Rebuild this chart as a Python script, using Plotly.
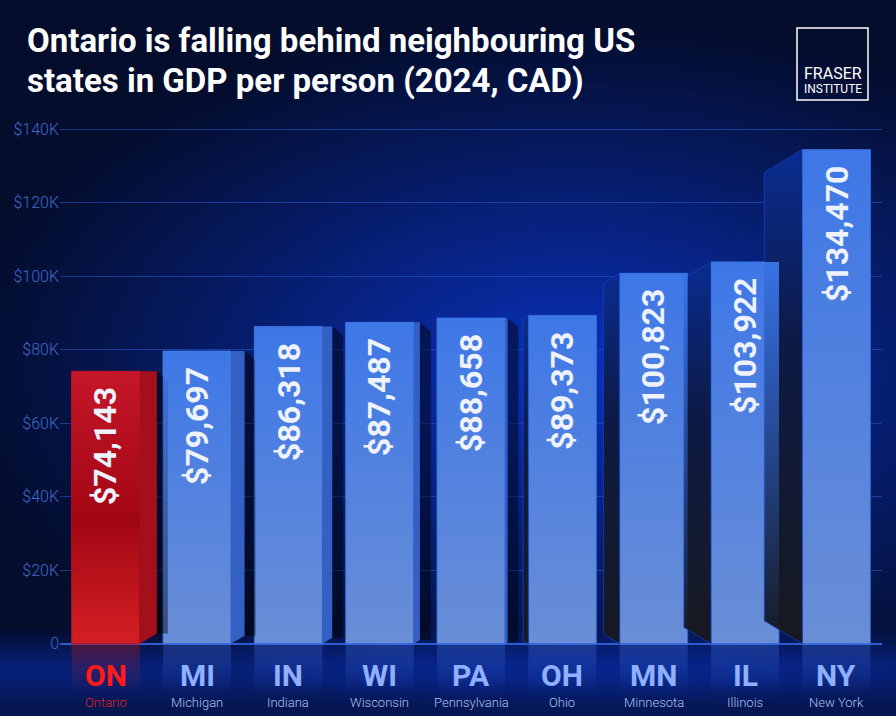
import base64
import struct
import zlib

import numpy as np
import plotly.graph_objects as go

# ---------------- data ----------------
codes = ["ON", "MI", "IN", "WI", "PA", "OH", "MN", "IL", "NY"]
names = ["Ontario", "Michigan", "Indiana", "Wisconsin", "Pennsylvania",
         "Ohio", "Minnesota", "Illinois", "New York"]
gdp_per_person = [74143, 79697, 86318, 87487, 88658, 89373, 100823, 103922, 134470]
y_tick_values = [0, 20000, 40000, 60000, 80000, 100000, 120000, 140000]
y_tick_labels = ["0", "$20K", "$40K", "$60K", "$80K", "$100K", "$120K", "$140K"]

title_line1 = "Ontario is falling behind neighbouring US"
title_line2 = "states in GDP per person (2024, CAD)"

# ---------------- layout geometry ----------------
W, H = 896, 716
L, R, T, B = 60, 14, 122, 0
PW, PH = W - L - R, H - T - B
Y_MIN, Y_MAX = -19650, 142000

FONT = "Roboto"
RED_HL = "#ff1a1a"
BLUE_HL = "#8fb0ff"


def xpaper(px):
    """figure pixel x -> paper coordinate"""
    return (px - L) / PW


def ypaper(py):
    """figure pixel y -> paper coordinate"""
    return (H - B - py) / PH


# ---------------- background image (gradient) ----------------
def make_png(arr):
    h, w, _ = arr.shape
    raw = b"".join(b"\x00" + arr[r].tobytes() for r in range(h))

    def chunk(tag, data):
        c = struct.pack(">I", len(data)) + tag + data
        return c + struct.pack(">I", zlib.crc32(tag + data) & 0xFFFFFFFF)

    ihdr = struct.pack(">IIBBBBB", w, h, 8, 2, 0, 0, 0)
    return (b"\x89PNG\r\n\x1a\n" + chunk(b"IHDR", ihdr)
            + chunk(b"IDAT", zlib.compress(raw, 9)) + chunk(b"IEND", b""))


bh, bw = 179, 224
yy, xx = np.mgrid[0:bh, 0:bw]
xn, yn = xx / (bw - 1), yy / (bh - 1)
base = np.array([4, 13, 44], dtype=float)
glow = np.array([10, 50, 190], dtype=float)
d = np.sqrt(((xn - 0.64) / 0.7) ** 2 + ((yn - 0.52) / 0.5) ** 2)
t = np.clip(1 - d, 0, 1) ** 1.05
band = np.clip((yn - 0.88) / 0.05, 0, 1) * np.clip(1 - (yn - 0.95) / 0.08, 0.5, 1)
t = np.clip(t + 0.5 * band, 0, 1)
img = base + (glow - base) * t[..., None]
img = np.clip(img, 0, 255).astype(np.uint8)
bg_uri = "data:image/png;base64," + base64.b64encode(make_png(img)).decode()

# ---------------- figure ----------------
n = len(codes)
idx = list(range(n))
is_on = [c == "ON" for c in codes]
front_w = 0.745
half = front_w / 2
vp = 4.7  # perspective centre (in category units)

fig = go.Figure()

# side faces (computed from the data values)
for i, v in enumerate(gdp_per_person):
    xl, xr = i - half, i + half
    if i < vp:
        dep = 0.04 * (vp - i)
        sl = 15000 * dep
        # dark shadow strip next to the side face
        fig.add_trace(go.Scatter(x=[xr + dep, xr + dep + 0.12, xr + dep + 0.12, xr + dep, xr + dep],
                                 y=[sl, sl, v - 2500, v, sl], mode="lines", fill="toself",
                                 fillcolor="rgba(0,0,0,0.45)", line=dict(width=0),
                                 hoverinfo="skip", showlegend=False))
        xs = [xr, xr + dep, xr + dep, xr, xr]
        ys = [0, sl, v, v, 0]
        col = "#a3101c" if is_on[i] else "#3460c4"
        fig.add_trace(go.Scatter(x=xs, y=ys, mode="lines", fill="toself",
                                 fillcolor=col, line=dict(width=0),
                                 hoverinfo="skip", showlegend=False))
    else:
        dep = 0.12 * (i - vp) + 0.02
        sl = 15000 * dep
        xs = [xl, xl - dep, xl - dep, xl, xl]
        ys = [0, sl, v - sl, v, 0]
        fig.add_trace(go.Scatter(x=xs, y=ys, mode="lines", fill="toself",
                                 line=dict(width=1, color="rgba(20,60,190,0.8)"),
                                 fillgradient=dict(type="vertical",
                                                   colorscale=[[0, "#17191f"], [0.6, "#0d1a44"], [1, "#0a2c90"]]),
                                 hoverinfo="skip", showlegend=False))

# front faces (bars)
fig.add_trace(go.Bar(
    x=idx, y=gdp_per_person, width=front_w,
    marker=dict(color=["#d42024" if o else "#6a8ed6" for o in is_on],
                line=dict(width=1, color=["#b0141c" if o else "#2f64d8" for o in is_on])),
    hoverinfo="x+y", showlegend=False,
))

# gradient overlays on the bar faces and reflections below zero
for i, v in enumerate(gdp_per_person):
    xl, xr = i - half, i + half
    if is_on[i]:
        cs = [[0, "rgba(150,0,16,0)"], [0.45, "rgba(150,0,16,0.8)"], [1, "rgba(196,22,42,0.9)"]]
        rcs = [[0, "rgba(200,30,40,0)"], [1, "rgba(200,30,40,0.35)"]]
    else:
        cs = [[0, "rgba(59,118,232,0)"], [1, "rgba(59,118,232,0.95)"]]
        rcs = [[0, "rgba(70,120,235,0)"], [1, "rgba(70,120,235,0.30)"]]
    fig.add_trace(go.Scatter(x=[xl, xr, xr, xl, xl], y=[0, 0, v, v, 0], mode="lines",
                             fill="toself", line=dict(width=0),
                             fillgradient=dict(type="vertical", colorscale=cs),
                             hoverinfo="skip", showlegend=False))
    fig.add_trace(go.Scatter(x=[xl, xr, xr, xl, xl], y=[0, 0, -14000, -14000, 0], mode="lines",
                             fill="toself", line=dict(width=0),
                             fillgradient=dict(type="vertical", colorscale=rcs),
                             hoverinfo="skip", showlegend=False))

annotations = []
# value labels inside the bars
for i, v in enumerate(gdp_per_person):
    annotations.append(dict(
        x=i, y=v, xref="x", yref="y", text=f"<b>${v:,}</b>", textangle=-90,
        showarrow=False, xanchor="center", yanchor="top", yshift=-14,
        font=dict(family=FONT, size=32, color="#eef2fc"),
    ))
# category labels
for i, (c, nm) in enumerate(zip(codes, names)):
    col = RED_HL if is_on[i] else BLUE_HL
    sub = "#e0202a" if is_on[i] else "#a9c0f2"
    annotations.append(dict(x=i, y=-8700, xref="x", yref="y", text=f"<b>{c}</b>",
                            showarrow=False, xanchor="center", yanchor="middle",
                            font=dict(family=FONT, size=30, color=col)))
    annotations.append(dict(x=i, y=-15900, xref="x", yref="y", text=nm,
                            showarrow=False, xanchor="center", yanchor="middle",
                            font=dict(family=FONT, size=13, color=sub, weight=300)))
# title lines
for txt, cy in ((title_line1, 41), (title_line2, 80)):
    annotations.append(dict(x=xpaper(25), y=ypaper(cy), xref="paper", yref="paper",
                            text=f"<b>{txt}</b>", showarrow=False,
                            xanchor="left", yanchor="middle",
                            font=dict(family=FONT, size=33, color="white")))
# logo text
annotations.append(dict(x=xpaper(832.5), y=ypaper(73), xref="paper", yref="paper",
                        text="FRASER", showarrow=False, xanchor="center", yanchor="middle",
                        font=dict(family=FONT, size=16, color="white")))
annotations.append(dict(x=xpaper(832.5), y=ypaper(89), xref="paper", yref="paper",
                        text="INSTITUTE", showarrow=False, xanchor="center", yanchor="middle",
                        font=dict(family=FONT, size=12, color="white")))

shapes = [dict(type="rect", xref="paper", yref="paper",
               x0=xpaper(797), x1=xpaper(868), y0=ypaper(100), y1=ypaper(28),
               line=dict(color="white", width=1.5), fillcolor="rgba(0,0,0,0)")]

fig.update_layout(
    width=W, height=H,
    margin=dict(l=L, r=R, t=T, b=B, pad=0),
    paper_bgcolor="#071a55", plot_bgcolor="rgba(0,0,0,0)",
    xaxis=dict(range=[-0.5, n - 0.5], showgrid=False, zeroline=False,
               showticklabels=False, fixedrange=True),
    yaxis=dict(range=[Y_MIN, Y_MAX], tickvals=y_tick_values, ticktext=y_tick_labels,
               showgrid=True, gridcolor="rgba(35,85,200,0.6)", gridwidth=1,
               zeroline=True, zerolinecolor="rgba(50,100,220,0.9)", zerolinewidth=1.5,
               tickfont=dict(family=FONT, size=16, color="#4068cc", weight=300),
               ticks="", fixedrange=True),
    bargap=0.2,
    annotations=annotations,
    shapes=shapes,
    images=[dict(source=bg_uri, xref="paper", yref="paper",
                 x=-L / PW, y=1 + T / PH, sizex=W / PW, sizey=H / PH,
                 xanchor="left", yanchor="top", sizing="stretch", layer="below")],
    showlegend=False,
)

fig.write_html(
    "out.html",
    config={"displayModeBar": False},
    post_script="document.body.style.margin='0px';"
                "document.documentElement.style.overflow='hidden';"
                "document.body.style.overflow='hidden';",
)
